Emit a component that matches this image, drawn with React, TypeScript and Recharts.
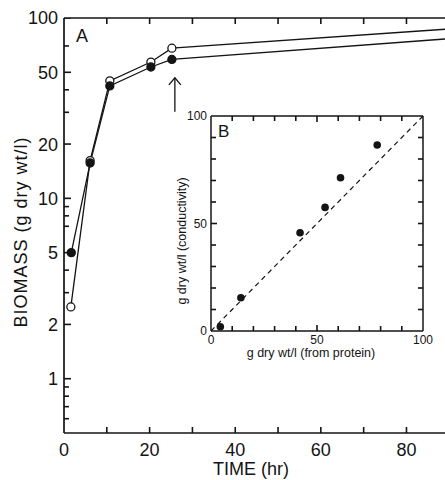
import React from "react";
import {
  Line,
  LineChart,
  ReferenceDot,
  ReferenceLine,
  Scatter,
  ScatterChart,
  XAxis,
  YAxis,
} from "recharts";

// panel A: biomass vs time, two series (open / filled circles)
const openTime = [1.6, 6.1, 10.7, 20.3, 25.2, 89];
const openBiomass = [2.5, 16.2, 44.8, 57, 68, 86.6];
const filledTime = [1.7, 6.1, 10.7, 20.3, 25.2, 89];
const filledBiomass = [5.0, 15.7, 42, 53.5, 58.9, 76.5];
const measuredCount = 5; // last point is where the curve leaves the frame

const timeTicks = [0, 10, 20, 30, 40, 50, 60, 70, 80];
const timeLabels = [0, 20, 40, 60, 80];
const biomassTicks = [
  100, 70, 50, 40, 30, 20, 10, 9, 8, 7, 5, 4, 3, 2, 1, 0.9, 0.8, 0.7, 0.6,
];
const biomassLabels = [100, 50, 20, 10, 5, 2, 1];

// arrow marking the change at ~26 h
const arrowTime = 25.9;
const arrowFrom = 30.2;
const arrowTo = 46.6;

// panel B: conductivity estimate vs protein estimate
const proteinBiomass = [4.4, 14.1, 42, 53.8, 61.1, 78.4];
const conductivityBiomass = [2.0, 15.5, 45.7, 57.5, 71.3, 86.5];
const insetTicks = [0, 10, 20, 30, 40, 50, 60, 70, 80, 90, 100];
const insetLabels = [0, 50, 100];

const INK = "#141414";
const FONT = "'Liberation Sans', Arial, sans-serif";

const openData = openTime.map((t, i) => ({ t, v: openBiomass[i] }));
const filledData = filledTime.map((t, i) => ({ t, v: filledBiomass[i] }));
const insetData = proteinBiomass.map((p, i) => ({
  p,
  c: conductivityBiomass[i],
}));

// inward tick marks, placed through the chart scales as dots of an invisible line
type Mark = { t?: number; v?: number; p?: number; c?: number; dx: number; dy: number };
const mainMarks: Mark[] = [
  ...biomassTicks.map((v) => ({ t: 0, v, dx: biomassLabels.includes(v) ? 7 : 5, dy: 0 })),
  ...timeTicks.slice(1).map((t) => ({ t, v: 0.5, dx: 0, dy: -6 })),
  ...timeTicks.slice(1).map((t) => ({ t, v: 100, dx: 0, dy: 6 })),
];
const innerInset = insetTicks.slice(1, -1);
const insetMarks: Mark[] = [
  ...innerInset.map((c) => ({ p: 0, c, dx: c === 50 ? 6 : 5, dy: 0 })),
  ...innerInset.map((c) => ({ p: 100, c, dx: -5, dy: 0 })),
  ...innerInset.map((p) => ({ p, c: 0, dx: 0, dy: p === 50 ? -6 : -5 })),
  ...innerInset.map((p) => ({ p, c: 100, dx: 0, dy: p === 50 ? 6 : 5 })),
];

function markShape(props: any) {
  const { cx, cy, payload, index } = props;
  if (cx == null || cy == null) return <g key={`m-${index}`} />;
  return (
    <path
      key={`m-${index}`}
      d={`M${cx},${cy} L${cx + payload.dx},${cy + payload.dy}`}
      stroke={INK}
      strokeWidth={1.6}
      fill="none"
    />
  );
}

// labels only
function makeLabel(side: "left" | "bottom", labels: number[], fontSize: number) {
  return (props: any) => {
    const { x, y, payload, index } = props;
    const v = payload.value;
    if (!labels.includes(v)) return <g key={`n-${index}`} />;
    return (
      <text
        key={`${side}-${index}`}
        x={x}
        y={y}
        dy={side === "left" ? "0.36em" : "0.72em"}
        textAnchor={side === "left" ? "end" : "middle"}
        fill={INK}
        fontSize={fontSize}
        fontFamily={FONT}
      >
        {v}
      </text>
    );
  };
}

const mainAxisLine = { stroke: INK, strokeWidth: 1.7 };
const insetAxisLine = { stroke: INK, strokeWidth: 1.5 };

function seriesDot(open: boolean) {
  return (props: any) => {
    const { cx, cy, index } = props;
    if (index >= measuredCount || cx == null) return <g key={`d-${open}-${index}`} />;
    return (
      <circle
        key={`d-${open}-${index}`}
        cx={cx}
        cy={cy}
        r={4}
        fill={open ? "#fff" : INK}
        stroke={INK}
        strokeWidth={1.3}
      />
    );
  };
}

function ArrowHead(props: any) {
  const { cx, cy } = props;
  return (
    <path
      d={`M${cx - 6},${cy + 7} L${cx},${cy} L${cx + 6},${cy + 7}`}
      fill="none"
      stroke={INK}
      strokeWidth={1.3}
    />
  );
}

function MainChart() {
  return (
    <LineChart width={445} height={480} margin={{ top: 18, right: 0, bottom: 0, left: 0 }}>
      <XAxis
        type="number"
        dataKey="t"
        domain={[0, 89]}
        allowDataOverflow
        ticks={timeTicks}
        interval={0}
        height={47}
        tickSize={0}
        tickMargin={10}
        tickLine={false}
        axisLine={mainAxisLine}
        tick={makeLabel("bottom", timeLabels, 18)}
      />
      <YAxis
        type="number"
        scale="log"
        domain={[0.5, 100]}
        allowDataOverflow
        ticks={biomassTicks}
        interval={0}
        width={64}
        tickSize={0}
        tickMargin={6}
        tickLine={false}
        axisLine={mainAxisLine}
        tick={makeLabel("left", biomassLabels, 18)}
      />
      <ReferenceLine y={100} stroke={INK} strokeWidth={1.7} />
      <Line
        data={mainMarks}
        dataKey="v"
        stroke="none"
        dot={markShape}
        activeDot={false}
        isAnimationActive={false}
      />
      <Line
        data={openData}
        dataKey="v"
        type="linear"
        stroke={INK}
        strokeWidth={1.3}
        dot={seriesDot(true)}
        activeDot={false}
        isAnimationActive={false}
      />
      <Line
        data={filledData}
        dataKey="v"
        type="linear"
        stroke={INK}
        strokeWidth={1.3}
        dot={seriesDot(false)}
        activeDot={false}
        isAnimationActive={false}
      />
      <ReferenceLine
        segment={[
          { x: arrowTime, y: arrowFrom },
          { x: arrowTime, y: arrowTo },
        ]}
        stroke={INK}
        strokeWidth={1.3}
      />
      <ReferenceDot x={arrowTime} y={arrowTo} r={0} shape={ArrowHead} />
    </LineChart>
  );
}

function InsetChart() {
  return (
    <ScatterChart width={275} height={270} margin={{ top: 16, right: 12, bottom: 0, left: 0 }}>
      <XAxis
        type="number"
        dataKey="p"
        domain={[0, 100]}
        ticks={insetTicks}
        interval={0}
        height={39}
        tickSize={0}
        tickMargin={4}
        tickLine={false}
        axisLine={insetAxisLine}
        tick={makeLabel("bottom", insetLabels, 12)}
      />
      <YAxis
        type="number"
        dataKey="c"
        domain={[0, 100]}
        ticks={insetTicks}
        interval={0}
        width={51}
        tickSize={0}
        tickMargin={4}
        tickLine={false}
        axisLine={insetAxisLine}
        tick={makeLabel("left", insetLabels, 12)}
      />
      <ReferenceLine y={100} stroke={INK} strokeWidth={1.5} />
      <ReferenceLine x={100} stroke={INK} strokeWidth={1.5} />
      <ReferenceLine
        segment={[
          { x: 0, y: 0 },
          { x: 100, y: 100 },
        ]}
        stroke={INK}
        strokeWidth={1.2}
        strokeDasharray="5 4"
      />
      <Scatter data={insetMarks} isAnimationActive={false} shape={markShape} />
      <Scatter
        data={insetData}
        fill={INK}
        isAnimationActive={false}
        shape={(p: any) => <circle cx={p.cx} cy={p.cy} r={3.8} fill={INK} />}
      />
    </ScatterChart>
  );
}

export default function App() {
  return (
    <div
      style={{
        position: "absolute",
        left: 0,
        top: 0,
        width: 445,
        height: 480,
        background: "#fff",
      }}
    >
      <div style={{ position: "absolute", left: 0, top: 0 }}>
        <MainChart />
      </div>
      <div style={{ position: "absolute", left: 160, top: 100 }}>
        <InsetChart />
      </div>
      <svg
        width={445}
        height={480}
        style={{ position: "absolute", left: 0, top: 0, pointerEvents: "none" }}
        fontFamily={FONT}
        fill={INK}
      >
        <text x={76} y={42} fontSize={18}>A</text>
        <text x={218} y={137} fontSize={17}>B</text>
        <text x={251} y={475} fontSize={18} textAnchor="middle">TIME (hr)</text>
        <text
          transform="translate(27,232) rotate(-90)"
          fontSize={18}
          textAnchor="middle"
          letterSpacing={1}
        >
          BIOMASS (g dry wt/l)
        </text>
        <text
          transform="translate(186,241) rotate(-90)"
          fontSize={12.5}
          textAnchor="middle"
        >
          g dry wt/l (conductivity)
        </text>
        <text x={311} y={357} fontSize={12.5} textAnchor="middle">
          g dry wt/l (from protein)
        </text>
      </svg>
    </div>
  );
}
